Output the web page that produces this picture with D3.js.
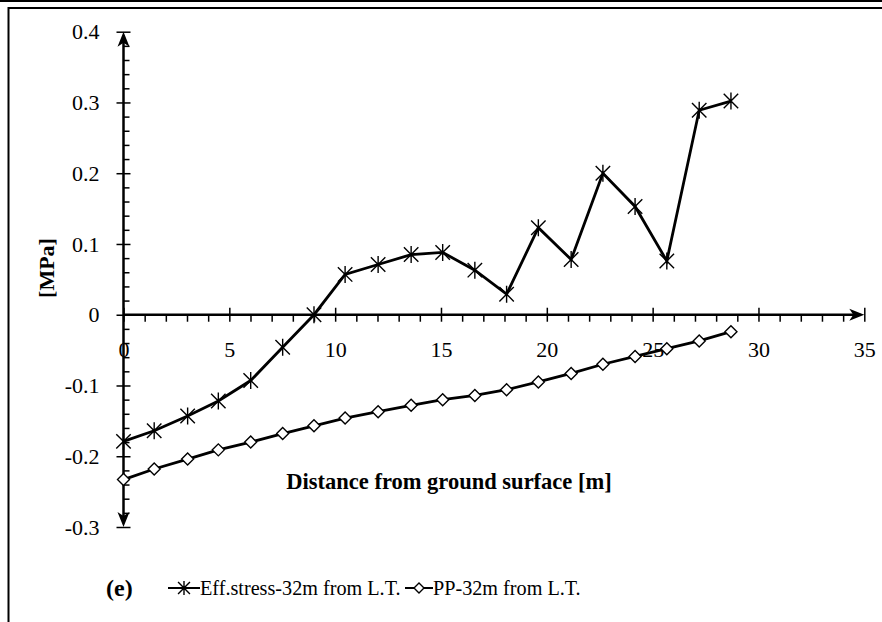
<!DOCTYPE html>
<html>
<head>
<meta charset="utf-8">
<script src="https://cdn.jsdelivr.net/npm/d3@7"></script>
<style>
  html, body { margin: 0; padding: 0; background: #fff; }
  svg { display: block; }
  svg text { font-family: "Liberation Serif", "Times New Roman", serif !important; fill: #000; }
</style>
</head>
<body>
<svg id="chart" width="882" height="622"></svg>
<script>
// ---- data ----
const distance = [0, 1.45, 3.03, 4.48, 6.01, 7.52, 9.0, 10.47, 12.03, 13.59, 15.08, 16.6, 18.1, 19.6, 21.15, 22.65, 24.17, 25.67, 27.2, 28.7];
const effStress = [-0.179, -0.164, -0.143, -0.122, -0.093, -0.046, 0.0, 0.057, 0.071, 0.085, 0.088, 0.063, 0.029, 0.123, 0.078, 0.200, 0.153, 0.076, 0.289, 0.302];
const porePressure = [-0.233, -0.218, -0.204, -0.191, -0.180, -0.168, -0.157, -0.146, -0.137, -0.128, -0.120, -0.114, -0.106, -0.095, -0.083, -0.070, -0.059, -0.048, -0.037, -0.024];
const xTicks = [0, 5, 10, 15, 20, 25, 30, 35];
const yTicks = [-0.3, -0.2, -0.1, 0, 0.1, 0.2, 0.3, 0.4];
const yTickLabels = ["-0.3", "-0.2", "-0.1", "0", "0.1", "0.2", "0.3", "0.4"];
const seriesNames = ["Eff.stress-32m from L.T.", "PP-32m from L.T."];
const xTitle = "Distance from ground surface [m]";
const yTitle = "[MPa]";
const panelLabel = "(e)";

const FONT = "'Liberation Serif', 'Times New Roman', serif";
const svg = d3.select("#chart");

// frame lines
svg.append("line").attr("x1", 0).attr("x2", 882).attr("y1", 1).attr("y2", 1).attr("stroke", "#000").attr("stroke-width", 2);
svg.append("line").attr("x1", 8).attr("x2", 882).attr("y1", 8).attr("y2", 8).attr("stroke", "#000").attr("stroke-width", 2);
svg.append("line").attr("x1", 8.5).attr("x2", 8.5).attr("y1", 7).attr("y2", 622).attr("stroke", "#000").attr("stroke-width", 2);

const x = d3.scaleLinear().domain([0, 35]).range([123.5, 864.3]);
const y = d3.scaleLinear().domain([-0.3, 0.4]).range([527, 31.7]);

const x0 = x(0), y0 = y(0);

// minor ticks x (below axis)
const xMinor = d3.range(1, 35).filter(v => v % 5 !== 0);
svg.append("g").attr("transform", `translate(0,${y0})`)
  .call(d3.axisBottom(x).tickValues(xMinor).tickSize(7).tickFormat(""))
  .call(g => g.select(".domain").remove())
  .selectAll("line").attr("stroke", "#000").attr("stroke-width", 1.5);

// major x ticks (crossing) + labels
const xAxis = svg.append("g").attr("transform", `translate(0,${y0})`)
  .call(d3.axisBottom(x).tickValues(xTicks).tickSize(7).tickPadding(20).tickFormat(d => String(d)));
xAxis.attr("font-family", FONT).attr("font-size", 22);
xAxis.select(".domain").remove();
xAxis.selectAll(".tick line").attr("y1", -7).attr("stroke", "#000").attr("stroke-width", 1.5);
xAxis.selectAll(".tick text").style("font-family", FONT).style("font-size", "22px").attr("fill", "#000");

// minor y ticks (right side)
const yMinor = d3.range(-0.28, 0.4, 0.02).map(v => +v.toFixed(2)).filter(v => Math.abs(Math.round(v * 10) - v * 10) > 1e-6);
svg.append("g").attr("transform", `translate(${x0},0)`)
  .call(d3.axisRight(y).tickValues(yMinor).tickSize(6).tickFormat(""))
  .call(g => g.select(".domain").remove())
  .selectAll("line").attr("stroke", "#000").attr("stroke-width", 1.5);

// major y ticks + labels
const yAxis = svg.append("g").attr("transform", `translate(${x0},0)`)
  .call(d3.axisLeft(y).tickValues(yTicks).tickSize(7).tickPadding(17).tickFormat((d, i) => yTickLabels[i]));
yAxis.attr("font-family", FONT).attr("font-size", 22);
yAxis.select(".domain").remove();
yAxis.selectAll(".tick line").attr("x1", 7).attr("stroke", "#000").attr("stroke-width", 1.5);
yAxis.selectAll(".tick text").style("font-family", FONT).style("font-size", "22px").attr("fill", "#000");

// axis lines with arrows
svg.append("line").attr("x1", x0).attr("x2", x(35) - 4).attr("y1", y0).attr("y2", y0).attr("stroke", "#000").attr("stroke-width", 2.5);
svg.append("line").attr("x1", x0).attr("x2", x0).attr("y1", y(0.4) + 4).attr("y2", y(-0.3) - 4).attr("stroke", "#000").attr("stroke-width", 2.5);
const xe = x(35);
svg.append("path").attr("d", `M${xe},${y0} L${xe - 15},${y0 - 6} L${xe - 11},${y0} L${xe - 15},${y0 + 6} Z`).attr("fill", "#000");
const yt = y(0.4), yb = y(-0.3);
svg.append("path").attr("d", `M${x0},${yt} L${x0 - 6},${yt + 15} L${x0},${yt + 11} L${x0 + 6},${yt + 15} Z`).attr("fill", "#000");
svg.append("path").attr("d", `M${x0},${yb} L${x0 - 6},${yb - 15} L${x0},${yb - 11} L${x0 + 6},${yb - 15} Z`).attr("fill", "#000");

// markers
function star(g, cx, cy, r) {
  const d = r * 0.85;
  g.append("path")
    .attr("d", `M${cx - d},${cy - d}L${cx + d},${cy + d}M${cx - d},${cy + d}L${cx + d},${cy - d}M${cx},${cy - r}L${cx},${cy + r}`)
    .attr("stroke", "#000").attr("stroke-width", 1.4).attr("fill", "none");
}
function diamond(g, cx, cy, r) {
  g.append("path")
    .attr("d", `M${cx},${cy - r}L${cx + r},${cy}L${cx},${cy + r}L${cx - r},${cy}Z`)
    .attr("stroke", "#000").attr("stroke-width", 1.4).attr("fill", "#fff");
}

const line = d3.line().x(d => x(d[0])).y(d => y(d[1]));
const effData = distance.map((d, i) => [d, effStress[i]]);
const ppData = distance.map((d, i) => [d, porePressure[i]]);

svg.append("path").datum(ppData).attr("d", line).attr("fill", "none").attr("stroke", "#000").attr("stroke-width", 2.8);
svg.append("path").datum(effData).attr("d", line).attr("fill", "none").attr("stroke", "#000").attr("stroke-width", 2.8);

const mg = svg.append("g");
ppData.forEach(d => diamond(mg, x(d[0]), y(d[1]), 6));
effData.forEach(d => star(mg, x(d[0]), y(d[1]), 8.5));

// titles
svg.append("text").attr("x", 449).attr("y", 489).attr("text-anchor", "middle")
  .style("font-family", FONT).attr("font-size", 22.5).attr("font-weight", "bold").text(xTitle);
svg.append("text").attr("transform", "translate(54,268) rotate(-90)").attr("text-anchor", "middle")
  .style("font-family", FONT).attr("font-size", 22).attr("font-weight", "bold").text(yTitle);

// legend
const ly = 588;
svg.append("text").attr("x", 106).attr("y", ly + 8).style("font-family", FONT).attr("font-size", 24).attr("font-weight", "bold").text(panelLabel);
svg.append("line").attr("x1", 168).attr("x2", 200).attr("y1", ly).attr("y2", ly).attr("stroke", "#000").attr("stroke-width", 2);
star(svg, 184, ly, 7);
svg.append("text").attr("x", 200).attr("y", ly + 7).style("font-family", FONT).attr("font-size", 20.2).text(seriesNames[0]);
svg.append("line").attr("x1", 405).attr("x2", 433).attr("y1", ly).attr("y2", ly).attr("stroke", "#000").attr("stroke-width", 2);
diamond(svg, 419, ly, 5);
svg.append("text").attr("x", 433).attr("y", ly + 7).style("font-family", FONT).attr("font-size", 20.2).text(seriesNames[1]);
</script>
</body>
</html>
